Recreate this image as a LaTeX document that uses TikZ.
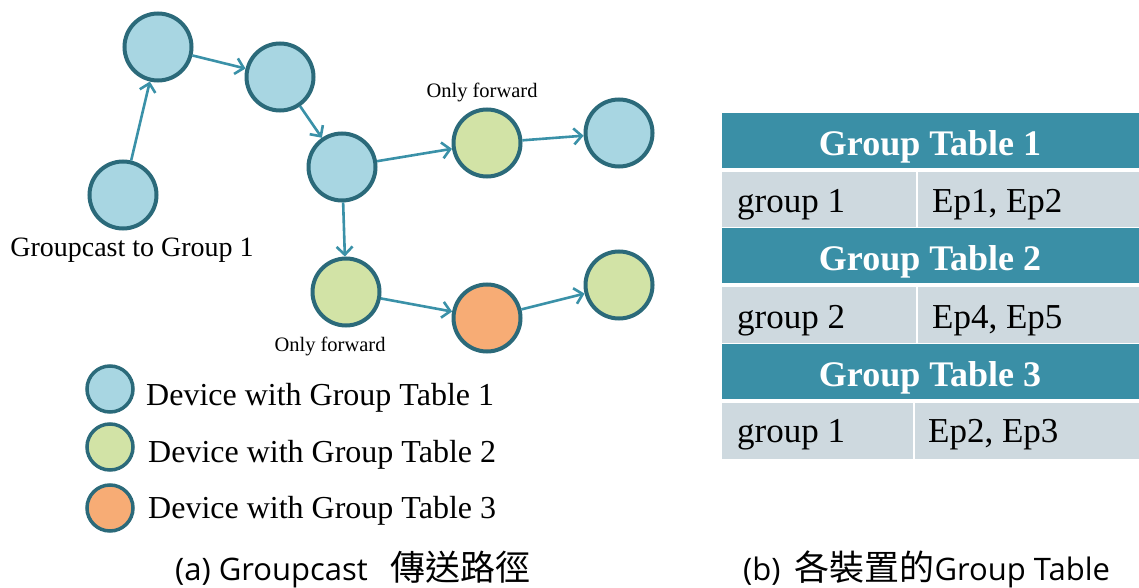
\documentclass[tikz,border=0pt]{standalone}
\usepackage{fontspec}
\setmainfont{Liberation Serif}
\newfontfamily\capfont{Open Sans}
\newfontfamily\cjk{Noto Sans CJK TC}
\usetikzlibrary{arrows.meta}
\definecolor{ringc}{HTML}{2B6A7A}
\definecolor{arrowc}{HTML}{3A91A8}
\definecolor{bluef}{HTML}{A8D6E2}
\definecolor{greenf}{HTML}{D2E3A6}
\definecolor{orangef}{HTML}{F7AC75}
\definecolor{headc}{HTML}{3A8FA6}
\definecolor{rowc}{HTML}{CED9DF}
\tikzset{
  dev/.style={circle, draw=ringc, line width=4pt, minimum size=67pt, inner sep=0pt},
  legdev/.style={circle, draw=ringc, line width=3.5pt, minimum size=46pt, inner sep=0pt},
  flow/.style={draw=arrowc, line width=2.6pt, -{Straight Barb[length=8pt,width=16pt,line width=2.6pt]}},
  fsz/.style={inner sep=0pt, font=\fontsize{#1}{#1}\selectfont},
  headtxt/.style={inner sep=0pt, text=white, font=\fontsize{36}{36}\selectfont\bfseries, anchor=base},
  celltxt/.style={inner sep=0pt, font=\fontsize{35}{35}\selectfont, anchor=base west},
  captxt/.style={inner sep=0pt, anchor=base west, font=\capfont\fontsize{31}{31}\selectfont},
}
\newcommand{\cjkcap}[1]{{\cjk\fontsize{35}{35}\selectfont #1}}
\begin{document}
\begin{tikzpicture}[x=1pt,y=-1pt]
\useasboundingbox (0,0) rectangle (1139,588);
% devices along the groupcast path
\node[dev, fill=bluef] (s) at (123,195) {};
\node[dev, fill=bluef] (a) at (158,47) {};
\node[dev, fill=bluef] (b) at (280,77) {};
\node[dev, fill=bluef] (c) at (342,167) {};
\node[dev, fill=greenf] (d) at (487,143) {};
\node[dev, fill=bluef] (e) at (619,133) {};
\node[dev, fill=greenf] (f) at (346,292) {};
\node[dev, fill=orangef] (g) at (487,318) {};
\node[dev, fill=greenf] (h) at (619,285) {};
% path labels
\node[fsz=28, anchor=base] (lstart) at (132,256) {Groupcast to Group 1};
\node[fsz=20.5, anchor=base] (lfwd1) at (482,98) {Only forward};
\node[fsz=20.5, anchor=base] (lfwd2) at (330,351) {Only forward};
% message flow
\draw[flow] (s) -- (a);
\draw[flow] (a) -- (b);
\draw[flow] (b) -- (c);
\draw[flow] (c) -- (d);
\draw[flow] (d) -- (e);
\draw[flow] (c) -- (f);
\draw[flow] (f) -- (g);
\draw[flow] (g) -- (h);
% legend
\node[legdev, fill=bluef] (k1) at (110,389) {};
\node[legdev, fill=greenf] (k2) at (110,447) {};
\node[legdev, fill=orangef] (k3) at (110,508) {};
\node[fsz=32, anchor=base west] (t1) at (146,405) {Device with Group Table 1};
\node[fsz=32, anchor=base west] (t2) at (148,462) {Device with Group Table 2};
\node[fsz=32, anchor=base west] (t3) at (148,518) {Device with Group Table 3};
% group tables
\fill[headc] (722,113) rectangle (1139,168);
\fill[rowc] (722,172) rectangle (916,227);
\fill[rowc] (918,172) rectangle (1139,227);
\fill[headc] (722,228) rectangle (1139,283);
\fill[rowc] (722,287) rectangle (916,343);
\fill[rowc] (918,287) rectangle (1139,343);
\fill[headc] (722,344) rectangle (1139,399);
\fill[rowc] (722,403) rectangle (913,459);
\fill[rowc] (915,403) rectangle (1139,459);
\node[headtxt] (h1) at (930,156) {Group Table 1};
\node[headtxt] (h2) at (930,270) {Group Table 2};
\node[headtxt] (h3) at (930,386) {Group Table 3};
\node[celltxt] (g1) at (737,212) {group 1};
\node[celltxt] (e1) at (932,212) {Ep1, Ep2};
\node[celltxt] (g2) at (737,328) {group 2};
\node[celltxt] (e2) at (932,328) {Ep4, Ep5};
\node[celltxt] (g3) at (737,442) {group 1};
\node[celltxt] (e3) at (928,442) {Ep2, Ep3};
% captions
\node[captxt] (capa) at (175,580) {(a) Groupcast\hspace{23pt}\cjkcap{傳送路徑}};
\node[captxt] (capb) at (743,580) {(b)\hspace{14pt}\cjkcap{各裝置的}Group Table};
\end{tikzpicture}
\end{document}
